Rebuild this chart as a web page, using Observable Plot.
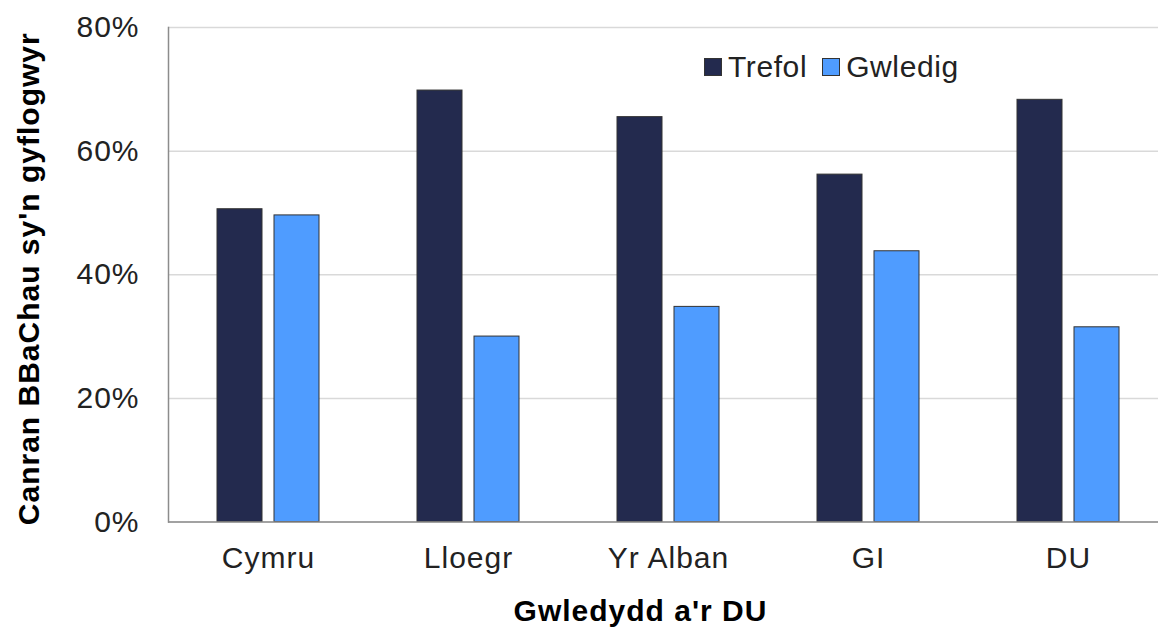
<!DOCTYPE html>
<html>
<head>
<meta charset="utf-8">
<script src="https://cdn.jsdelivr.net/npm/d3@7"></script>
<script src="https://cdn.jsdelivr.net/npm/@observablehq/plot@0.6"></script>
<style>
  html, body { margin: 0; padding: 0; background: #fff; }
  #wrap { position: relative; width: 1158px; height: 627px; font-family: "Liberation Sans", Arial, sans-serif; }
  #wrap svg text { letter-spacing: 1px; }
  #legend { position: absolute; left: 704px; top: 50px; display: flex; align-items: center; font-size: 30px; letter-spacing: 0.6px; line-height: 34px; color: #222; }
  #legend .sw { width: 18px; height: 18px; box-sizing: border-box; border: 1px solid #333; margin-right: 6px; }
  #legend .it { display: flex; align-items: center; margin-right: 15px; }
</style>
</head>
<body>
<div id="wrap"></div>
<script>
const countries = ["Cymru", "Lloegr", "Yr Alban", "GI", "DU"];
const series = ["Trefol", "Gwledig"];
const trefol = [50.6, 69.8, 65.5, 56.2, 68.3];
const gwledig = [49.6, 30.0, 34.8, 43.8, 31.5];
const colors = ["#232a4e", "#4f9cff"];
const yTicks = [0, 20, 40, 60, 80];
const yTitle = "Canran BBaChau sy'n gyflogwyr";
const xTitle = "Gwledydd a'r DU";

const data = countries.flatMap((c, i) => [
  {country: c, series: series[0], value: trefol[i]},
  {country: c, series: series[1], value: gwledig[i]}
]);

const chart = Plot.plot({
  width: 1158,
  height: 627,
  marginLeft: 166,
  marginRight: -11.75,
  marginTop: 27,
  marginBottom: 105.5,
  style: {fontFamily: "'Liberation Sans', Arial, sans-serif", fontSize: "30px", color: "#222", background: "#fff"},
  fx: {domain: countries, padding: 0, label: null},
  x: {domain: series, paddingInner: 0.217, paddingOuter: 0.854, axis: null},
  y: {domain: [0, 80], ticks: yTicks, label: null},
  color: {domain: series, range: colors},
  marks: [
    Plot.gridY(yTicks, {stroke: "#d9d9d9", strokeOpacity: 1, strokeWidth: 1.5}),
    Plot.barY(data, {fx: "country", x: "series", y: "value", fill: "series", stroke: "#333", strokeWidth: 1}),
    Plot.ruleY([0], {stroke: "#8c8c8c", strokeWidth: 1.5}),
    Plot.frame({anchor: "left", facet: "super", stroke: "#8c8c8c", strokeWidth: 1.5}),
    Plot.axisY({ticks: yTicks, tickSize: 0, tickPadding: 29, tickFormat: d => d + "%", label: null}),
    Plot.axisFx({anchor: "bottom", tickSize: 0, tickPadding: 25, label: null}),
    Plot.text([yTitle], {facet: "super", frameAnchor: "left", textAnchor: "middle", rotate: -90, lineAnchor: "top", dx: -151, dy: 4, fontWeight: "bold", fill: "#000", fontSize: 30}),
    Plot.text([xTitle], {facet: "super", frameAnchor: "bottom", textAnchor: "middle", lineAnchor: "top", dx: -28, dy: 78, fontWeight: "bold", fill: "#000", fontSize: 30})
  ]
});

const wrap = document.getElementById("wrap");
wrap.appendChild(chart);

const legend = document.createElement("div");
legend.id = "legend";
series.forEach((s, i) => {
  const it = document.createElement("div");
  it.className = "it";
  const sw = document.createElement("div");
  sw.className = "sw";
  sw.style.background = colors[i];
  const tx = document.createElement("span");
  tx.textContent = s;
  it.appendChild(sw);
  it.appendChild(tx);
  legend.appendChild(it);
});
wrap.appendChild(legend);
</script>
</body>
</html>
